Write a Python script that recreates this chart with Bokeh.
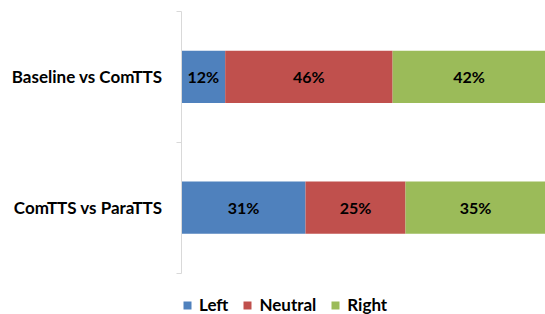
from bokeh.plotting import figure
from bokeh.models import ColumnDataSource, FixedTicker, Legend, LegendItem, Range1d
from bokeh.core.properties import value
from bokeh.embed import file_html
from bokeh.resources import INLINE
import numpy as np

categories = ["Baseline vs ComTTS", "ComTTS vs ParaTTS"]
series = ["Left", "Neutral", "Right"]
left = [12, 31]
neutral = [46, 25]
right = [42, 35]
colors = ["#4F81BD", "#C0504D", "#9BBB59"]

vals = np.array([left, neutral, right], dtype=float)
tot = vals.sum(axis=0)
frac = vals / tot
n = len(categories)
ypos = [n - i - 0.5 for i in range(n)]

data = {"y": ypos}
for s, f in zip(series, frac):
    data[s] = f
src = ColumnDataSource(data)

FONT = "Lato"

p = figure(width=545, height=314, output_backend="svg", toolbar_location=None,
           x_range=Range1d(0, 1), y_range=Range1d(-0.3165, n), x_axis_location=None,
           min_border_left=181, min_border_right=0, min_border_top=11, min_border_bottom=0)
p.outline_line_color = None
p.grid.visible = False
p.background_fill_color = "white"

rs = p.hbar_stack(series, y="y", height=0.4, color=colors, line_color=None, source=src)

cum = np.cumsum(frac, axis=0)
mids = cum - frac / 2
lx, ly, lt = [], [], []
for si in range(len(series)):
    for ci in range(n):
        lx.append(mids[si, ci]); ly.append(ypos[ci]); lt.append(f"{int(vals[si, ci])}%")
p.text(x=lx, y=ly, text=lt, text_align="center", text_baseline="middle",
       text_font=value(FONT), text_font_style="bold", text_font_size="16px", text_color="black")

ax = p.yaxis[0]
ax.bounds = (0, n)
ax.ticker = FixedTicker(ticks=ypos, minor_ticks=list(range(n + 1)))
ax.major_label_overrides = {y: c for y, c in zip(ypos, categories)}
ax.major_tick_out = 0
ax.major_tick_in = 0
ax.minor_tick_out = 5
ax.minor_tick_in = 0
ax.minor_tick_line_color = "#D9D9D9"
ax.axis_line_color = "#D9D9D9"
ax.major_label_text_font = FONT
ax.major_label_text_font_style = "bold"
ax.major_label_text_font_size = "17px"
ax.major_label_text_color = "black"
ax.major_label_standoff = 14

legend = Legend(items=[LegendItem(label=s, renderers=[r]) for s, r in zip(series, rs)],
                orientation="horizontal", location=(1, -1),
                glyph_width=10, glyph_height=10, label_standoff=7, spacing=14,
                padding=0, margin=0, border_line_color=None, background_fill_alpha=0,
                label_text_font=FONT, label_text_font_style="bold", label_text_font_size="17px",
                label_text_color="black")
p.add_layout(legend, "center")

open("out.html", "w").write(file_html(p, INLINE))
